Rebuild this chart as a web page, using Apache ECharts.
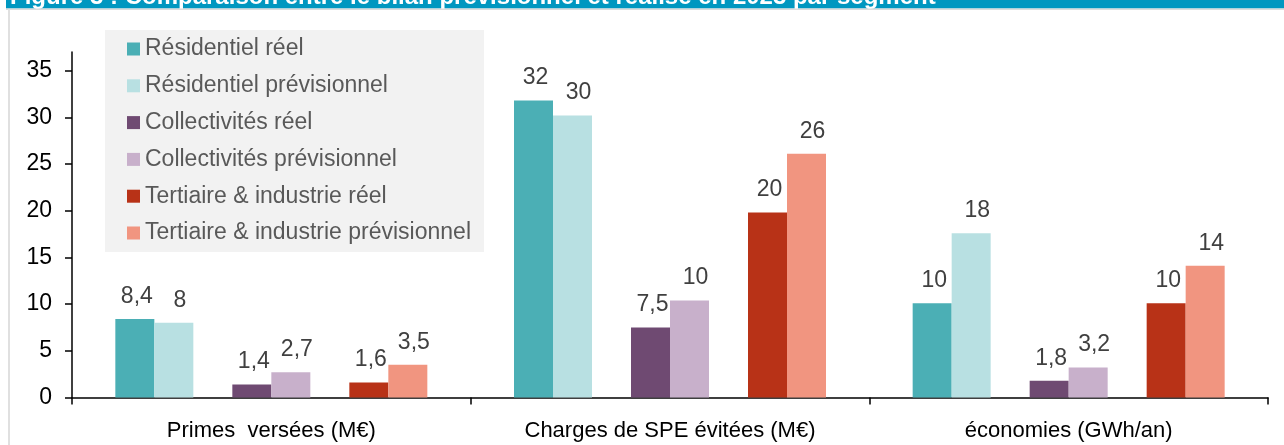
<!DOCTYPE html>
<html lang="fr">
<head>
    <meta charset="UTF-8">
    <title>Bilan prévisionnel et réalisé 2023</title>
    <style>
        html, body { margin: 0; padding: 0; background: #fff; }
    </style>
</head>
<body>
<script src="https://cdn.jsdelivr.net/npm/echarts@6/dist/echarts.min.js"></script>

<div id="main" style="width: 1284px;height:445px;"></div>

<script type="text/javascript">
    // données
    var categories = ['Primes  versées (M€)', 'Charges de SPE évitées (M€)', 'économies (GWh/an)'];
    var resReel = [8.4, 31.8, 10.1];
    var resPrev = [8.0, 30.2, 17.6];
    var collReel = [1.4, 7.5, 1.8];
    var collPrev = [2.7, 10.4, 3.2];
    var tertReel = [1.6, 19.8, 10.1];
    var tertPrev = [3.5, 26.1, 14.1];
    var yTicks = [0, 5, 10, 15, 20, 25, 30, 35];

    var myChart = echarts.init(document.getElementById('main'));
    var font = 'Liberation Sans, Arial, sans-serif';

    // 2 chiffres significatifs, virgule décimale
    function fmt(p) {
        return String(Number(p.value.toPrecision(2))).replace('.', ',');
    }

    function barSerie(name, data, color, dx) {
        return {
            name: name,
            type: 'bar',
            data: data,
            barWidth: 39,
            barGap: '0%',
            itemStyle: { color: color },
            label: {
                show: true,
                position: 'top',
                distance: 11,
                offset: [dx, 0],
                formatter: fmt,
                color: '#404040',
                fontSize: 23,
                fontFamily: font
            }
        };
    }

    // séries vides pour laisser un espace entre les paires
    function spacer() {
        return { name: 'vide', type: 'bar', data: ['-', '-', '-'], barWidth: 39, barGap: '0%' };
    }

    var option = {
        animation: false,
        backgroundColor: '#fff',
        textStyle: { fontFamily: font },
        graphic: [
            {
                type: 'text', x: 10, y: 9,
                style: {
                    text: 'Figure 3 : Comparaison entre le bilan prévisionnel et réalisé en 2023 par segment',
                    fill: '#fff', font: 'bold 24px ' + font, verticalAlign: 'bottom'
                },
                z: 10
            },
            { type: 'rect', shape: { x: 6, y: 0, width: 1278, height: 8.5 }, style: { fill: '#0097c0' }, z: 5 },
            { type: 'rect', shape: { x: 0, y: 8.5, width: 1284, height: 50 }, style: { fill: 'rgba(0,0,0,0)' }, z: 1 },
            { type: 'rect', shape: { x: 6, y: 8.5, width: 1278, height: 1.5 }, style: { fill: '#dcdcdc' }, z: 11 },
            { type: 'rect', shape: { x: 8, y: 9, width: 2, height: 436 }, style: { fill: '#e0e0e0' }, z: 11 }
        ],
        legend: {
            data: ['Résidentiel réel', 'Résidentiel prévisionnel', 'Collectivités réel',
                'Collectivités prévisionnel', 'Tertiaire & industrie réel', 'Tertiaire & industrie prévisionnel'],
            orient: 'vertical',
            left: 105,
            top: 30,
            padding: [7.5, 13, 7.5, 22],
            itemGap: 13.8,
            itemWidth: 13,
            itemHeight: 13,
            icon: 'rect',
            backgroundColor: '#f2f2f2',
            textStyle: { color: '#595959', fontSize: 23, fontFamily: font }
        },
        grid: { left: 72, right: 16, top: 52, bottom: 47.5 },
        xAxis: {
            type: 'category',
            data: categories,
            axisLine: { lineStyle: { color: '#000', width: 1.5 } },
            axisTick: { show: true, length: 7, lineStyle: { color: '#000', width: 1.5 } },
            axisLabel: { color: '#000', fontSize: 22, margin: 22, fontFamily: font, interval: 0 }
        },
        yAxis: {
            type: 'value',
            min: 0,
            max: 37,
            interval: 5,
            splitLine: { show: false },
            axisLine: { show: true, lineStyle: { color: '#000', width: 1.5 } },
            axisTick: { show: true, length: 7, customValues: yTicks, lineStyle: { color: '#000', width: 1.5 } },
            axisLabel: { color: '#000', fontSize: 23, margin: 20, fontFamily: font, customValues: yTicks }
        },
        series: [
            barSerie('Résidentiel réel', resReel, '#4bafb5', 2),
            barSerie('Résidentiel prévisionnel', resPrev, '#b8e0e2', 6),
            spacer(),
            barSerie('Collectivités réel', collReel, '#6f4a72', 2),
            barSerie('Collectivités prévisionnel', collPrev, '#c8b0cb', 6),
            spacer(),
            barSerie('Tertiaire & industrie réel', tertReel, '#b83217', 2),
            barSerie('Tertiaire & industrie prévisionnel', tertPrev, '#f19580', 6)
        ]
    };

    myChart.setOption(option);
</script>
</body>
</html>
